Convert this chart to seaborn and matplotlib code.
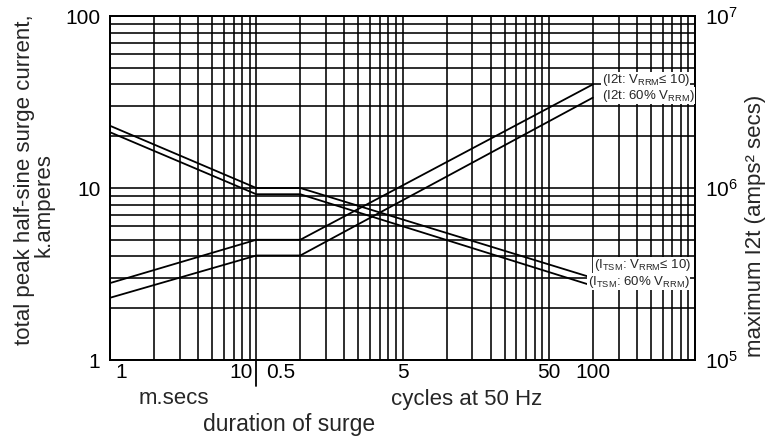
import matplotlib
matplotlib.use("Agg")
import matplotlib.pyplot as plt
import matplotlib.ticker as mticker
import matplotlib.transforms as mtrans
import numpy as np
import pandas as pd
import seaborn as sns

# ---- data (duration in milliseconds; 0.5 cycle at 50 Hz = 10 ms) ----
t_ms = [1, 10, 20, 2000]
itsm_vrrm10 = [23.0, 10.0, 10.0, 3.0]        # k.amperes
itsm_60pct = [21.1, 9.2, 9.2, 2.7]           # k.amperes
i2t_vrrm10 = [2.8e5, 5.0e5, 5.0e5, 4.0e6]    # amps^2 secs
i2t_60pct = [2.3e5, 4.05e5, 4.05e5, 3.35e6]  # amps^2 secs

ms_tick_pos = [1.19, 9.4]
ms_tick_labels = ["1", "10"]
cyc_tick_pos = [11.7, 100, 1000, 2000]
cyc_tick_labels = ["0.5", "5", "50", "100"]
y_ticks = [1, 10, 100]
y_tick_labels = ["1", "10", "100"]
y2_ticks = [1e5, 1e6, 1e7]

series_labels = {
    "i2t_vrrm10": "(I2t: V$_{\\mathregular{RRM}}$\u2264 10)",
    "i2t_60": "(I2t: 60% V$_{\\mathregular{RRM}}$)",
    "itsm_vrrm10": "(I$_{\\mathregular{TSM}}$: V$_{\\mathregular{RRM}}$\u2264 10)",
    "itsm_60": "(I$_{\\mathregular{TSM}}$: 60% V$_{\\mathregular{RRM}}$)",
}

sns.set_theme(style="white")
plt.rcParams['font.family'] = ['Liberation Sans', 'DejaVu Sans']
plt.rcParams['mathtext.fontset'] = 'custom'
plt.rcParams['mathtext.rm'] = 'Liberation Sans'
plt.rcParams['mathtext.it'] = 'Liberation Sans:italic'
plt.rcParams['mathtext.bf'] = 'Liberation Sans:bold'

W, H = 779, 441
fig = plt.figure(figsize=(W / 100, H / 100), dpi=100)
ax = fig.add_axes([110 / W, 1 - 360 / H, 585 / W, 344 / H])
ax.set_xscale('log')
ax.set_yscale('log')
ax.set_xlim(1, 10000)
ax.set_ylim(1, 100)

LW = 1.3
df_a = pd.DataFrame({"t": t_ms, "v": itsm_vrrm10})
df_b = pd.DataFrame({"t": t_ms, "v": itsm_60pct})
sns.lineplot(data=df_a, x="t", y="v", ax=ax, color="black", lw=LW, estimator=None, sort=False)
sns.lineplot(data=df_b, x="t", y="v", ax=ax, color="black", lw=LW, estimator=None, sort=False)

# grid
ax.xaxis.set_major_locator(mticker.LogLocator(base=10, numticks=20))
ax.xaxis.set_minor_locator(mticker.LogLocator(base=10, subs=np.arange(2, 10), numticks=20))
ax.yaxis.set_major_locator(mticker.FixedLocator(y_ticks))
ax.yaxis.set_minor_locator(mticker.LogLocator(base=10, subs=np.arange(2, 10), numticks=20))
ax.yaxis.set_major_formatter(mticker.FixedFormatter(y_tick_labels))
ax.yaxis.set_minor_formatter(mticker.NullFormatter())
ax.xaxis.set_major_formatter(mticker.NullFormatter())
ax.xaxis.set_minor_formatter(mticker.NullFormatter())
ax.grid(True, which='both', color='black', lw=1.15)
ax.tick_params(which='both', length=0)
ax.tick_params(axis='y', labelsize=15, pad=7, colors='black')
ax.set_xlabel("")
ax.set_ylabel("")
for s in ax.spines.values():
    s.set_color('black')
    s.set_linewidth(LW)

ax2 = ax.twinx()
ax2.set_yscale('log')
ax2.set_ylim(1e5, 1e7)
df_c = pd.DataFrame({"t": t_ms, "v": i2t_vrrm10})
df_d = pd.DataFrame({"t": t_ms, "v": i2t_60pct})
sns.lineplot(data=df_c, x="t", y="v", ax=ax2, color="black", lw=LW, estimator=None, sort=False)
sns.lineplot(data=df_d, x="t", y="v", ax=ax2, color="black", lw=LW, estimator=None, sort=False)
ax2.set_xlim(1, 10000)
ax2.yaxis.set_major_locator(mticker.FixedLocator(y2_ticks))
ax2.yaxis.set_minor_locator(mticker.NullLocator())
ax2.tick_params(which='both', length=0)
ax2.tick_params(axis='y', labelsize=15, pad=7, colors='black')
ax2.set_ylabel("")
ax2.set_xlabel("")
for s in ax2.spines.values():
    s.set_color('black')
    s.set_linewidth(LW)

# x tick labels
bt = mtrans.blended_transform_factory(ax.transData, ax.transAxes)
for x, lab in zip(ms_tick_pos, ms_tick_labels):
    ha = 'right' if lab == "10" else 'center'
    ax2.text(x, -0.008, lab, transform=bt, ha=ha, va='top', fontsize=15, color='black')
for x, lab in zip(cyc_tick_pos, cyc_tick_labels):
    ha = 'left' if lab == "0.5" else 'center'
    ax2.text(x, -0.008, lab, transform=bt, ha=ha, va='top', fontsize=15, color='black')
# separator between m.secs and cycles
ax2.plot([10, 10], [0, -0.075], transform=bt, clip_on=False, color='black', lw=LW)

# axis titles
fig.text(173.5 / W, 1 - 399 / H, "m.secs", ha='center', va='center', fontsize=16)
fig.text(467 / W, 1 - 399 / H, "cycles at 50 Hz", ha='center', va='center', fontsize=16)
fig.text(289 / W, 1 - 425 / H, "duration of surge", ha='center', va='center', fontsize=16.5)
fig.text(25 / W, 1 - 180 / H, "total peak half-sine surge current,", rotation=90,
         ha='center', va='center', fontsize=16)
fig.text(44 / W, 1 - 205 / H, "k.amperes", rotation=90, ha='center', va='center', fontsize=16)
fig.text(756 / W, 1 - 226 / H, "maximum I2t (amps\u00b2 secs)", rotation=90,
         ha='center', va='center', fontsize=16)

# series labels (white boxes)
box = dict(facecolor='white', edgecolor='none', pad=0.25)
FS = 9.5
ax2.text(2300, 42.5, series_labels["i2t_vrrm10"], transform=ax.transData, ha='left', va='center',
         fontsize=FS, bbox=box, zorder=10)
ax2.text(2300, 34.4, series_labels["i2t_60"], transform=ax.transData, ha='left', va='center',
         fontsize=FS, bbox=box, zorder=10)
ax2.text(2033, 3.55, series_labels["itsm_vrrm10"], transform=ax.transData, ha='left', va='center',
         fontsize=FS, bbox=box, zorder=10)
ax2.text(1841, 2.86, series_labels["itsm_60"], transform=ax.transData, ha='left', va='center',
         fontsize=FS, bbox=box, zorder=10)

fig.savefig("out.png", dpi=100, facecolor='white')
